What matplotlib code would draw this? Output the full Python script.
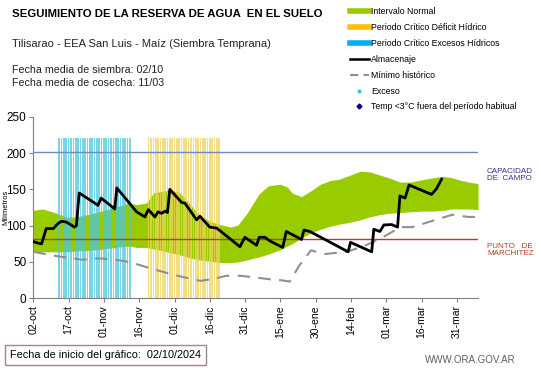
import matplotlib
matplotlib.use("Agg")
import matplotlib.pyplot as plt
from matplotlib.lines import Line2D

plt.rcParams["font.family"] = ["Liberation Sans", "DejaVu Sans"]

# días desde 02/10/2024
tick_days = [0, 15, 30, 45, 60, 75, 90, 105, 120, 135, 150, 165, 180]
tick_labels = ["02-oct", "17-oct", "01-nov", "16-nov", "01-dic", "16-dic", "31-dic",
               "15-ene", "30-ene", "14-feb", "01-mar", "16-mar", "31-mar"]

band_days = [0, 4, 10, 14, 18, 24, 28, 35, 41, 44, 48, 51, 54, 58, 62, 66, 70, 75, 80,
             84, 87, 91, 96, 100, 105, 108, 110, 114, 118, 122, 126, 130, 135, 139, 143,
             147, 151, 156, 160, 165, 170, 174, 178, 181, 185, 189]
band_upper = [121, 123, 117, 112, 112, 116, 119, 126, 131, 129, 131, 145, 147, 149, 146,
              132, 116, 106, 101, 98, 101, 118, 144, 155, 157, 153, 145, 140, 148, 157,
              162, 164, 170, 175, 174, 170, 166, 160, 160, 163, 166, 168, 166, 163, 160, 158]
band_lower = [64, 64, 64, 64, 65, 66, 67, 70, 72, 70, 70, 68, 66, 63, 60, 56, 53, 51, 49,
              49, 50, 53, 57, 61, 67, 72, 75, 83, 90, 95, 99, 102, 105, 108, 112, 115, 117,
              118, 119, 120, 120, 121, 123, 123, 123, 122]

min_days = [0, 10, 21, 28, 35, 41, 50, 60, 71, 77, 82, 88, 96, 101, 105, 109, 113, 118,
            124, 133, 140, 148, 156, 161, 168, 178, 185, 189]
min_hist = [64, 58, 53, 55, 53, 50, 41, 32, 24, 27, 31, 31, 28, 26, 25, 23, 45, 66, 61,
            64, 71, 83, 98, 98, 105, 115, 112, 112]

alm_days = [0, 2, 3.5, 5.5, 7, 8.5, 10.5, 12, 14, 17.5, 18.3, 19.5, 27.5, 28.8, 34.6, 35.5,
            43.9, 47.4, 48.9, 51.7, 53, 54.5, 56, 57, 58, 63, 64.4, 69.4, 70.8, 75, 78,
            87.8, 89.9, 94.9, 96, 98.4, 100.5, 106, 107.5, 114, 115, 117.5, 133.8, 134.8,
            143.8, 144.7, 147.3, 149, 152.3, 154.8, 155.8, 158, 159.7, 169.2, 171.4, 173.5]
almacenaje = [78, 76, 75, 96, 96, 96, 103, 106, 105, 98, 100, 145, 128, 138, 123, 152,
              119, 112, 122, 112, 119, 117, 120, 118, 150, 132, 131, 108, 113, 98, 96.5,
              71, 84, 73, 84, 84, 79, 70, 92, 81, 94, 92, 64, 77, 64, 95, 92, 101, 101.5,
              98, 141, 138, 156, 143, 151, 164]

exceso_days = list(range(11, 42))
deficit_days = list(range(49, 80))
critico_top = 220
capacidad_campo = 202
punto_marchitez = 81

fig = plt.figure(figsize=(5.41, 3.68), dpi=100)
ax = fig.add_axes([0.0616, 0.1894, 0.8220, 0.4935])

ax.fill_between(band_days, band_lower, band_upper, color="#99cc00", lw=0, zorder=1)
ax.bar(exceso_days, [critico_top] * len(exceso_days), width=0.7, color="#4cc6dc",
       alpha=0.75, lw=0, antialiased=False, zorder=2)
ax.bar(deficit_days, [critico_top] * len(deficit_days), width=0.7, color="#eed45c",
       alpha=0.75, lw=0, antialiased=False, zorder=2)
ax.axhline(capacidad_campo, color="#6a8cc0", lw=1, zorder=3)
ax.axhline(punto_marchitez, color="#c0392b", lw=1, zorder=3)
ax.plot(min_days, min_hist, color="#909090", lw=1.5, dashes=(6, 4), zorder=4)
ax.plot(alm_days, almacenaje, color="black", lw=2, zorder=5)

ax.set_xlim(0, 189)
ax.set_ylim(0, 250)
ax.set_yticks([0, 50, 100, 150, 200, 250])
ax.set_xticks(tick_days)
ax.set_xticklabels(tick_labels, rotation=90)
ax.tick_params(axis="both", labelsize=8.5, length=3, color="#808080", pad=2)
ax.tick_params(axis="x", labelsize=7.5)
for s in ("top", "right"):
    ax.spines[s].set_visible(False)
for s in ("left", "bottom"):
    ax.spines[s].set_color("#808080")

fig.text(6 / 541, 1 - 207 / 368, "Milímetros", rotation=90, fontsize=5.5,
         ha="center", va="center")

fig.text(12 / 541, 1 - 14 / 368, "SEGUIMIENTO DE LA RESERVA DE AGUA  EN EL SUELO",
         fontsize=8.2, weight="bold", va="center")
fig.text(12 / 541, 1 - 44 / 368, "Tilisarao - EEA San Luis - Maíz (Siembra Temprana)",
         fontsize=8, va="center", color="#222222")
fig.text(12 / 541, 1 - 70 / 368, "Fecha media de siembra: 02/10", fontsize=7.7,
         va="center", color="#222222")
fig.text(12 / 541, 1 - 83 / 368, "Fecha media de cosecha: 11/03", fontsize=7.7,
         va="center", color="#222222")

fig.text(487 / 541, 1 - 175 / 368, "CAPACIDAD\nDE  CAMPO", fontsize=5.8,
         color="#333399", va="center", linespacing=1.0)
fig.text(487 / 541, 1 - 250 / 368, "PUNTO   DE\nMARCHITEZ", fontsize=5.8,
         color="#c0392b", va="center", linespacing=1.0)

handles = [
    Line2D([], [], color="#99cc00", lw=4),
    Line2D([], [], color="#ffc000", lw=4),
    Line2D([], [], color="#00b0f0", lw=4),
    Line2D([], [], color="black", lw=1.8),
    Line2D([], [], color="#909090", lw=1.5, dashes=(4, 2.5)),
    Line2D([], [], color="#33cccc", marker="o", ms=2, lw=0),
    Line2D([], [], color="#000099", marker="D", ms=2.5, lw=0),
]
labels = ["Intervalo Normal", "Periodo Crítico Déficit Hídrico",
          "Periodo Crítico Excesos Hídricos", "Almacenaje", "Mínimo histórico",
          "Exceso", "Temp <3°C fuera del período habitual"]
fig.legend(handles, labels, loc="upper left", bbox_to_anchor=(346 / 541, 1 - 4 / 368),
           frameon=False, fontsize=6.3, handlelength=2.2, handletextpad=0.3,
           labelspacing=0.78, borderaxespad=0)

fig.text(10 / 541, 1 - 355 / 368, "Fecha de inicio del gráfico:  02/10/2024",
         fontsize=7.8, va="center",
         bbox=dict(boxstyle="square,pad=0.5", fc="white", ec="#a08888", lw=1))
fig.text(516 / 541, 1 - 360 / 368, "WWW.ORA.GOV.AR", fontsize=7, color="#606060",
         ha="right", va="center")

fig.savefig("out.png", dpi=100)
